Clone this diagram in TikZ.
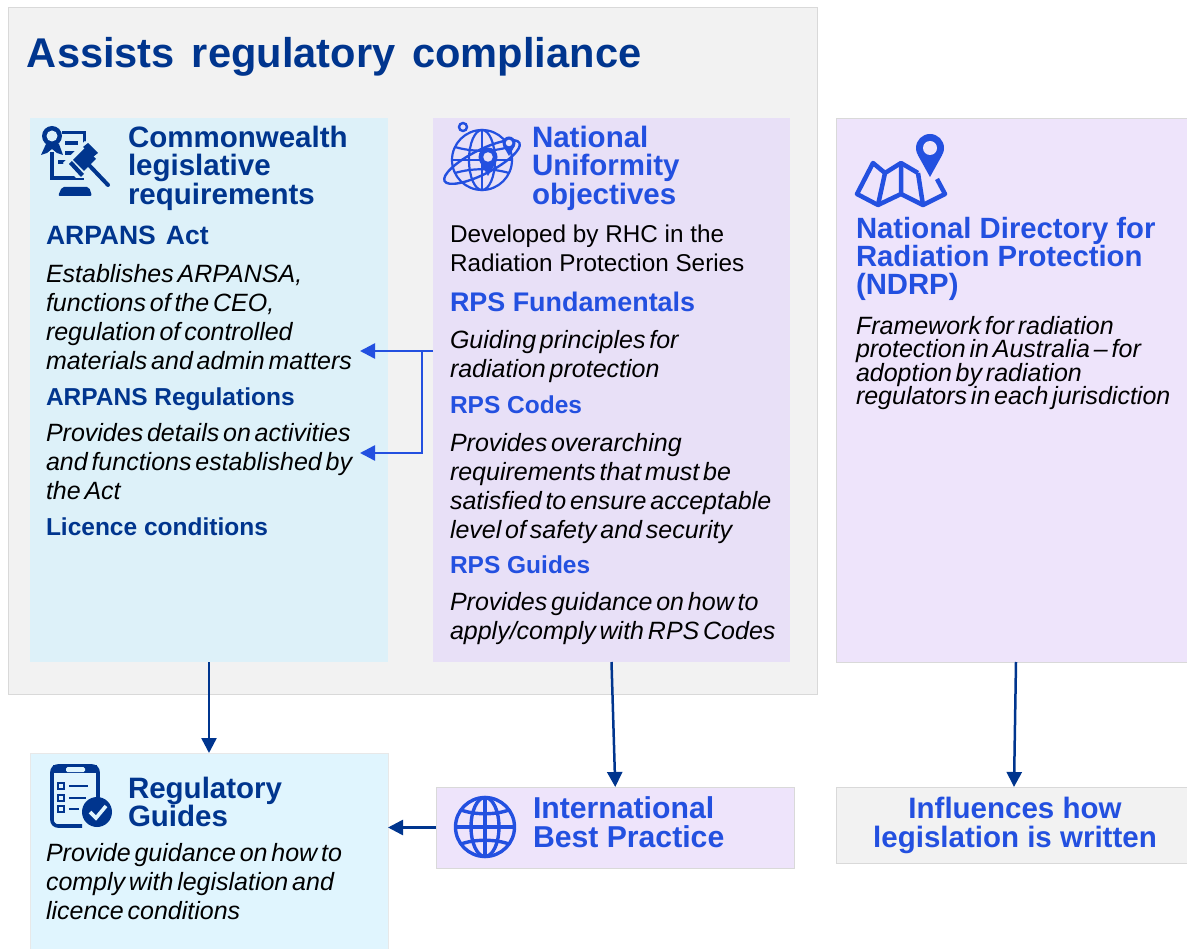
\documentclass[tikz,border=0pt]{standalone}
\usepackage{fontspec}
\setmainfont{Liberation Sans}
\newfontfamily\tightit[WordSpace=0.55]{Liberation Sans}
\usetikzlibrary{arrows.meta,calc}
\definecolor{navy}{HTML}{00358E}
\definecolor{bright}{HTML}{2350E0}
\definecolor{outerbg}{HTML}{F2F2F2}
\definecolor{outerln}{HTML}{D9D9D9}
\definecolor{legisbg}{HTML}{DDF1F9}
\definecolor{natbg}{HTML}{E8E0F7}
\definecolor{ndrpbg}{HTML}{EEE4FB}
\definecolor{rgbg}{HTML}{E0F5FE}
\newcommand\pinshape[6]{%
  \fill[#5] (#1,#2) circle[radius=#3pt];
  \fill[#5] ({#1-0.87*#3},{#2+0.5*#3}) -- ({#1+0.87*#3},{#2+0.5*#3}) -- (#1,#4) -- cycle;
  \fill[#6] (#1,#2) circle[radius={0.5*#3 pt}];}
\tikzset{
  panel/.style={anchor=north west,inner sep=0pt,outer sep=0pt},
  lbl/.style={anchor=north west,inner sep=0pt,outer sep=0pt,align=left},
  headn/.style={lbl,text=navy,font=\bfseries\fontsize{29.5}{28.5}\selectfont},
  headb/.style={lbl,text=bright,font=\bfseries\fontsize{29.5}{28.5}\selectfont},
  subn/.style={lbl,text=navy,font=\bfseries\fontsize{24.5}{29}\selectfont},
  subb/.style={lbl,text=bright,font=\bfseries\fontsize{24.5}{29}\selectfont},
  bodyit/.style={lbl,text=black,font=\tightit\itshape\fontsize{25}{29}\selectfont},
  bodyrm/.style={lbl,text=black,font=\fontsize{24.3}{29}\selectfont},
  arrown/.style={draw=navy,line width=2.5pt,-{Triangle[length=15pt,width=15pt]}},
  arrowb/.style={draw=bright,line width=2.5pt,-{Triangle[length=15pt,width=15pt]}},
}
\begin{document}
\begin{tikzpicture}[x=1pt,y=-1pt]
\useasboundingbox (0,0) rectangle (1187,949);
% panels
\node[panel,draw=outerln,fill=outerbg,line width=1pt,minimum width=809pt,minimum height=686pt] (outer) at (8,8) {};
\node[panel,fill=legisbg,minimum width=358pt,minimum height=544pt] (legis) at (30,118) {};
\node[panel,fill=natbg,minimum width=357pt,minimum height=544pt] (nat) at (433,118) {};
\node[panel,fill=ndrpbg,draw=outerln,line width=.6pt,minimum width=351pt,minimum height=544pt] (ndrp) at (836,118) {};
\node[panel,fill=rgbg,draw=outerln!60,line width=.6pt,minimum width=358pt,minimum height=196pt] (rg) at (30,753) {};
\node[panel,fill=ndrpbg,draw=outerln,line width=.8pt,minimum width=358.5pt,minimum height=81pt] (intl) at (436,787) {};
\node[panel,fill=outerbg,draw=outerln,line width=.8pt,minimum width=351pt,minimum height=76pt] (infl) at (836,787) {};
% title
\node[lbl,text=navy,font={\bfseries\fontsize{41.6}{44}\selectfont\spaceskip=17pt\relax}] (title) at (27,37) {Assists regulatory compliance};
% legislative column
\node[headn] (legish) at (128,126) {Commonwealth\\legislative\\requirements};
\node[subn,font={\bfseries\fontsize{26.5}{29}\selectfont\spaceskip=10pt\relax}] (act) at (46,226) {ARPANS Act};
\node[bodyit] (actb) at (46,264) {Establishes ARPANSA,\\functions of the CEO,\\regulation of controlled\\materials and admin matters};
\node[subn] (regs) at (46,388) {ARPANS Regulations};
\node[bodyit] (regsb) at (46,423) {Provides details on activities\\and functions established by\\the Act};
\node[subn] (lic) at (46,518) {Licence conditions};
% national column
\node[headb] (nath) at (532,126) {National\\Uniformity\\objectives};
\node[bodyrm] (natb) at (450,225) {Developed by RHC in the\\Radiation Protection Series};
\node[subb,font=\bfseries\fontsize{26.9}{29}\selectfont] (fund) at (450,292) {RPS Fundamentals};
\node[bodyit] (fundb) at (450,330) {Guiding principles for\\radiation protection};
\node[subb] (codes) at (450,396) {RPS Codes};
\node[bodyit] (codesb) at (450,433) {Provides overarching\\requirements that must be\\satisfied to ensure acceptable\\level of safety and security};
\node[subb] (guides) at (450,556) {RPS Guides};
\node[bodyit] (guidesb) at (450,592) {Provides guidance on how to\\apply/comply with RPS Codes};
% NDRP column
\node[headb,font=\bfseries\fontsize{29.3}{28}\selectfont] (ndrph) at (856,217) {National Directory for\\Radiation Protection\\(NDRP)};
\node[bodyit,font=\tightit\itshape\fontsize{25}{23.5}\selectfont] (ndrpb) at (856,316) {Framework for radiation\\protection in Australia – for\\adoption by radiation\\regulators in each jurisdiction};
% bottom row
\node[headn] (rgh) at (128,777) {Regulatory\\Guides};
\node[bodyit] (rgb) at (46,843) {Provide guidance on how to\\comply with legislation and\\licence conditions};
\node[headb,font=\bfseries\fontsize{30.2}{28.5}\selectfont] (intlh) at (533,797) {International\\Best Practice};
\node[headb,align=center,anchor=north,font=\bfseries\fontsize{29.5}{29}\selectfont] (inflh) at (1015,797) {Influences how\\legislation is written};
% connectors
\coordinate (ndrpout) at (1016,662);
\coordinate (inflin) at (1014,787);
\coordinate (tipa) at (360,351);
\coordinate (tipb) at (360,453);
\coordinate (branch) at (422,351);
\draw[arrown] (legis.south) -- (rg.north);
\draw[arrown] (nat.south) -- (intl.north);
\draw[arrown] (ndrpout) -- (inflin);
\draw[arrown] (intl.west) -- (rg.east |- intl.west);
\draw[arrowb] (nat.west |- tipa) -- (tipa);
\draw[arrowb,line join=miter] (branch) -- (branch |- tipb) -- (tipb);
% gavel icon
\begin{scope}
\draw[navy,line width=3.2pt] (52,152) -- (52,178) -- (84,178);
\draw[navy,line width=3pt] (62,133) -- (84,133) -- (84,150);
\draw[navy,line width=3.2pt] (65,143) -- (78,143) (65,153) -- (75,153) (58,162) -- (68,162);
\fill[navy] (52,136) circle[radius=10pt];
\fill[legisbg] (52,136) circle[radius=5.5pt];
\fill[navy] (46,144) -- (41,155) -- (47,153) -- (52,149) -- (57,153) -- (63,155) -- (59,144) -- cycle;
\fill[legisbg] (63,163) -- (85,141) -- (101,156) -- (86,178) -- (76,178) -- cycle;
\fill[navy] (73,160) -- (85,148) -- (96,159) -- (84,171) -- cycle;
\fill[navy] (83,147) -- (88,143) -- (98,153) -- (93,157) -- cycle;
\fill[navy] (69,164) -- (72,161) -- (84,174) -- (81,177) -- cycle;
\draw[navy,line width=4pt,line cap=round] (88,164) -- (108,185);
\fill[navy,rounded corners=2pt] (58,196) -- (62,187) -- (89,187) -- (92,196) -- cycle;
\end{scope}
% national globe icon
\begin{scope}[bright,line width=2.2pt]
\draw (482,160) circle[radius=30pt];
\draw (482,160) ellipse[x radius=13pt,y radius=30pt];
\draw (455,147) .. controls (472,152) and (492,152) .. (509,147);
\draw (455,173) .. controls (472,168) and (492,168) .. (509,173);
\draw (452,160) -- (512,160);
\draw (482,130) -- (482,190);
\draw[line width=2.4pt,rotate around={27:(482,162)}] (482,162) ellipse[x radius=42pt,y radius=12pt];
\pinshape{488}{157}{9.5}{176}{bright}{natbg}
\pinshape{509}{143}{6.5}{156}{bright}{natbg}
\draw[line width=2.4pt] (463,127) circle[radius=4pt];
\end{scope}
% map icon
\begin{scope}
\pinshape{930}{148}{14}{177}{bright}{ndrpbg}
\draw[bright,line width=4.5pt,line join=round] (937,179) -- (945,194) -- (923,205) -- (901,194) -- (878,205) -- (857,194) -- (873,163) -- (885,173) -- (901,163) -- (918,173);
\draw[bright,line width=4.5pt] (885,173) -- (878,205) (901,163) -- (901,194) (918,173) -- (923,205);
\end{scope}
% checklist icon
\begin{scope}
\draw[navy,line width=3.6pt,rounded corners=6pt] (82,826) -- (52,826) -- (52,766) -- (98,766) -- (98,800);
\fill[navy] (53,765) rectangle (97,773);
\fill[rgbg,rounded corners=1.5pt] (66,767) rectangle (85,772);
\foreach \yy/\ee/\ww in {786/88/2.4,798/86/1.6,809/79/1.6}{
  \draw[navy,line width=2pt] (58,{\yy-3}) rectangle (64,{\yy+3});
  \draw[navy,line width=\ww pt] (69,\yy) -- (\ee,\yy);
}
\fill[navy] (97,812) circle[radius=15pt];
\draw[rgbg,line width=3.6pt] (90,812) -- (96,818) -- (106,806);
\end{scope}
% international globe icon
\begin{scope}[bright,line width=3.4pt]
\draw (485,827) circle[radius=29.5pt];
\draw (485,827) ellipse[x radius=14pt,y radius=29.5pt];
\draw (485,797.5) -- (485,856.5);
\draw (455.5,827) -- (514.5,827);
\draw (461,810) .. controls (475,815) and (495,815) .. (509,810);
\draw (461,844) .. controls (475,839) and (495,839) .. (509,844);
\end{scope}
\end{tikzpicture}
\end{document}
